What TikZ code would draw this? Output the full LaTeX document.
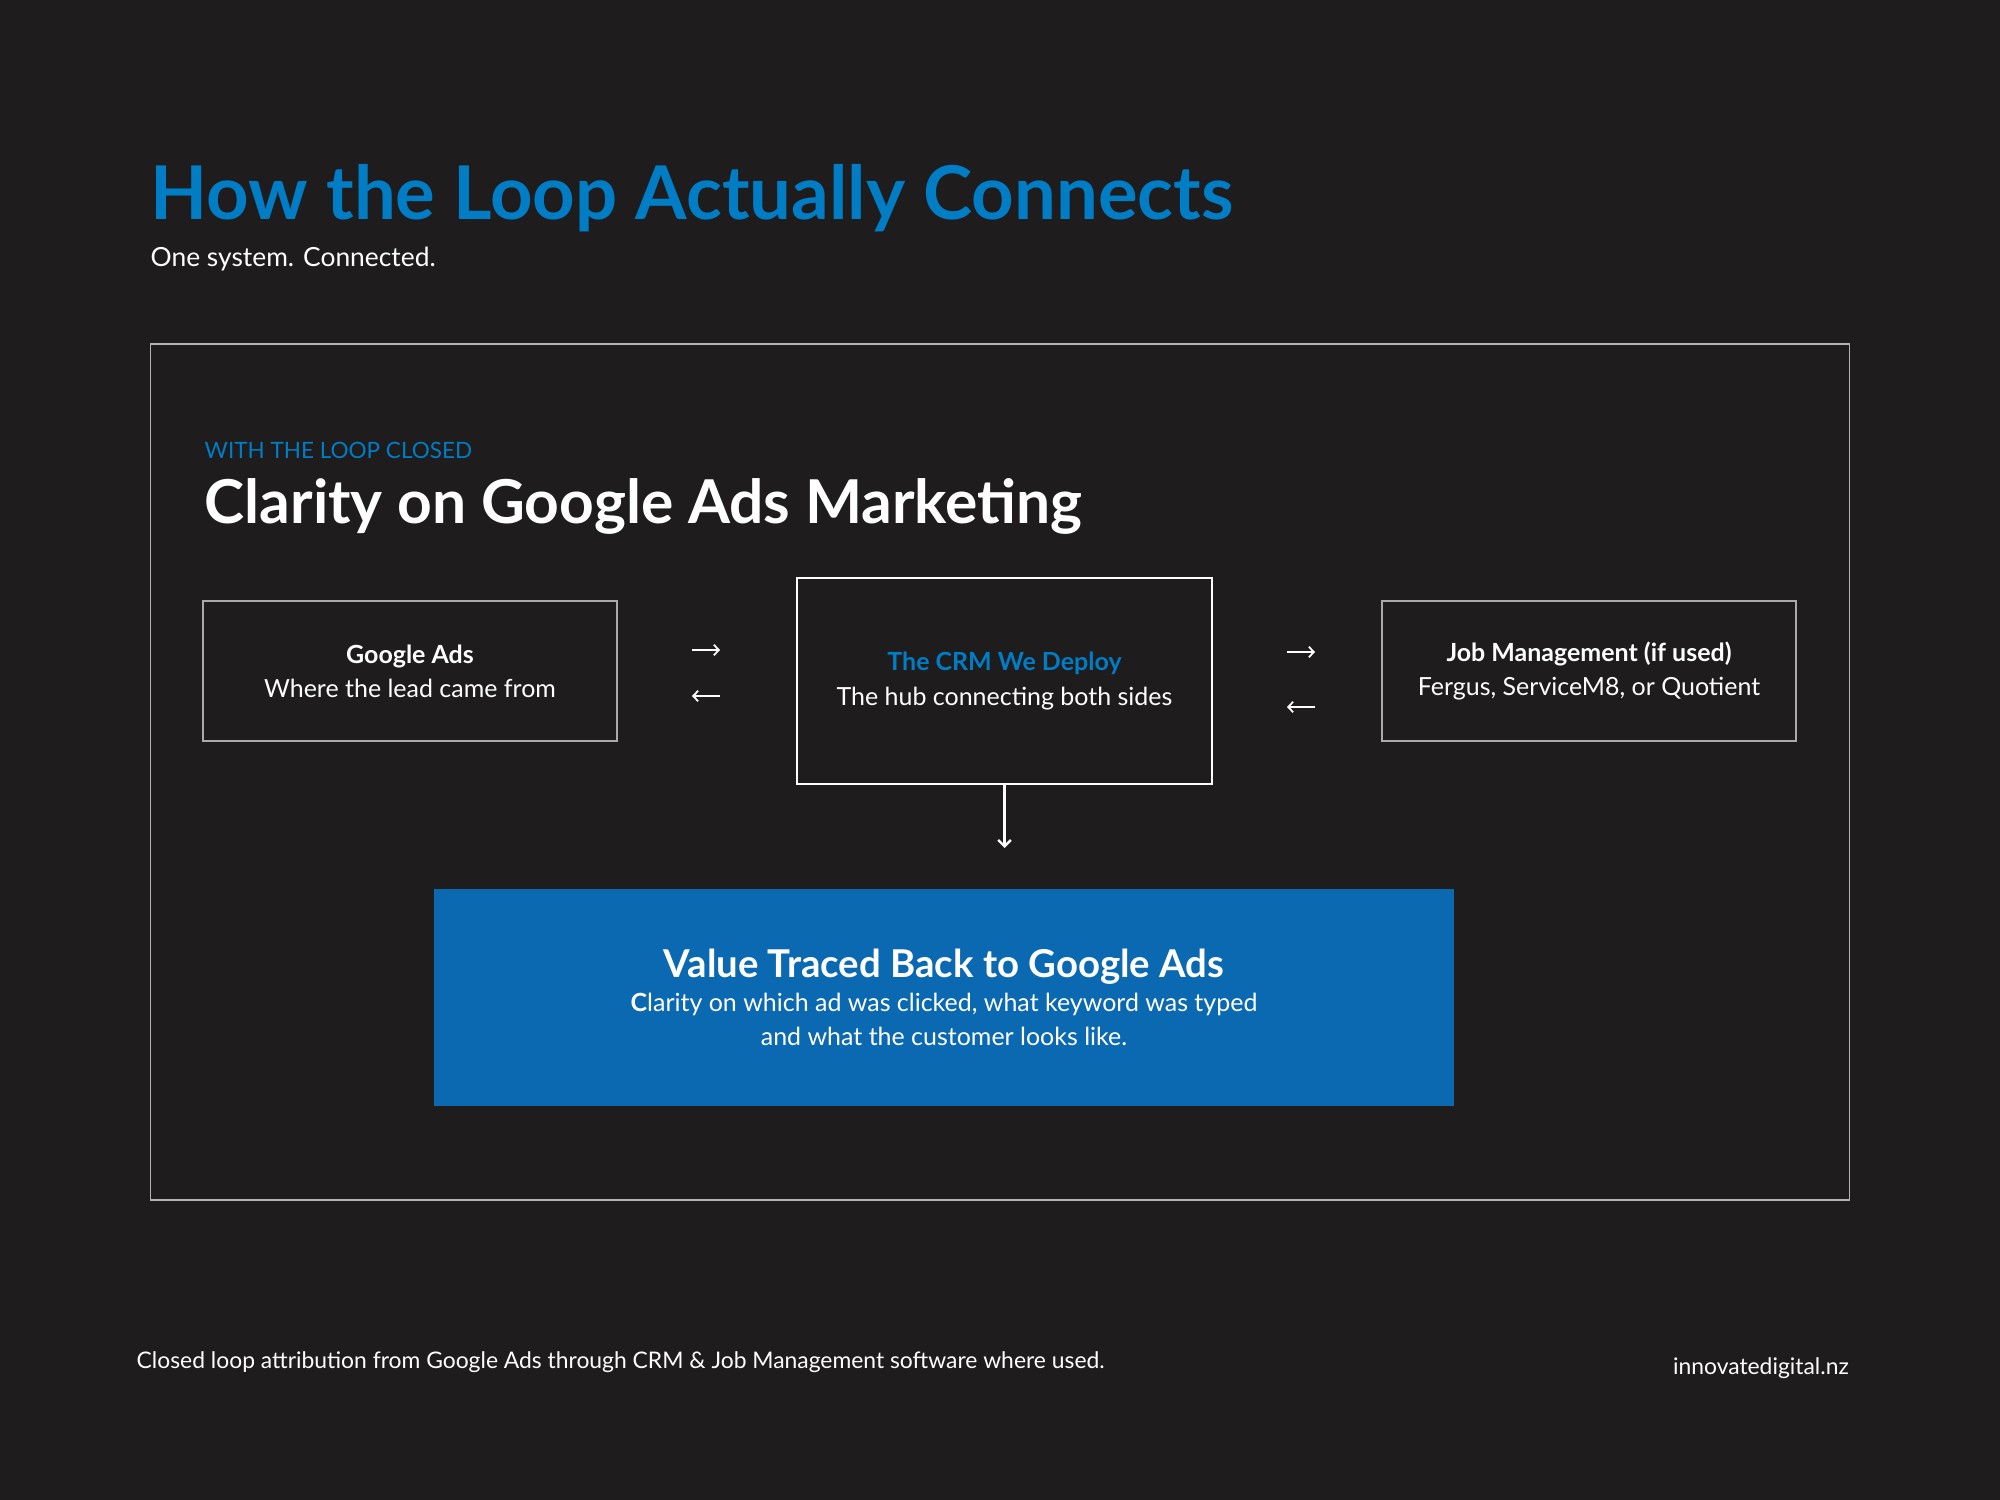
\documentclass[tikz,border=0pt]{standalone}
\usepackage{fontspec}
\setmainfont{Lato}
\usetikzlibrary{positioning, arrows.meta}
\definecolor{bgdark}{RGB}{30,28,29}
\definecolor{titleblue}{RGB}{0,125,197}
\definecolor{boxblue}{RGB}{11,105,178}
\definecolor{edgegray}{RGB}{170,170,170}

\begin{document}
\begin{tikzpicture}[
    x=0.01cm, y=-0.01cm,
    text=white,
    sidebox/.style={rectangle, draw=edgegray, line width=0.45pt, minimum width=4.14cm,
                    minimum height=1.40cm, align=center, font=\fontsize{7.1}{9.7}\selectfont},
    hubbox/.style={rectangle, draw=white, line width=0.7pt, minimum width=4.15cm,
                   minimum height=2.06cm, align=center, font=\fontsize{7.1}{9.7}\selectfont},
    valuebox/.style={rectangle, fill=boxblue, minimum width=10.20cm, minimum height=2.17cm,
                     align=center, font=\fontsize{7.1}{9.7}\selectfont},
    flow/.style={-{Straight Barb[length=1.4pt, width=3pt]}, white, line width=0.5pt},
    down/.style={-{Straight Barb[length=1.8pt, width=3.6pt]}, white, line width=0.7pt}
]

% --- Fondo y marco ---
\fill[bgdark] (0,0) rectangle (2000,1500);
\useasboundingbox (0,0) rectangle (2000,1500);
\draw[edgegray!90!white, line width=0.45pt] (150.5,344) rectangle (1849.5,1200);

% --- Titulos ---
\node[anchor=base west, inner sep=0pt, text=titleblue, font=\fontsize{21.1}{25}\selectfont\bfseries]
    (title) at (150,219) {How the Loop Actually Connects};
\node[anchor=base west, inner sep=0pt, font=\fontsize{7.5}{9}\selectfont]
    (subtitle) at (150,267) {One system. Connected.};
\node[anchor=base west, inner sep=0pt, text=titleblue, font=\fontsize{6.4}{8}\selectfont]
    (kicker) at (204,458) {WITH THE LOOP CLOSED};
\node[anchor=base west, inner sep=0pt, font=\fontsize{17.2}{20}\selectfont\bfseries]
    (heading) at (204,523) {Clarity on Google Ads Marketing};

% --- Cajas ---
\node[sidebox] (ads) at (410,671) {\textbf{Google Ads}\\Where the lead came from};
\node[hubbox] (crm) at (1004.5,681) {\textcolor{titleblue}{\textbf{The CRM We Deploy}}\\The hub connecting both sides};
\node[sidebox] (jobs) at (1589,671) {\textbf{Job Management (if used)}\\Fergus, ServiceM8, or Quotient};
\node[valuebox] (value) at (944,997.5)
    {{\fontsize{10.9}{11.9}\selectfont\bfseries Value Traced Back to Google Ads}\\
     \textbf{C}larity on which ad was clicked, what keyword was typed\\
     and what the customer looks like.};

% --- Flechas ---
\coordinate (adsout) at (692,650);  \coordinate (crmin) at (720,650);
\coordinate (crmback) at (720,696); \coordinate (adsin) at (692,696);
\coordinate (crmout) at (1287,652); \coordinate (jobsin) at (1315,652);
\coordinate (jobsback) at (1315,707); \coordinate (crmret) at (1287,707);
\coordinate (valuein) at (crm.south |- 0,848);

\draw[flow] (adsout) -- (crmin);
\draw[flow] (crmback) -- (adsin);
\draw[flow] (crmout) -- (jobsin);
\draw[flow] (jobsback) -- (crmret);
\draw[down] (crm.south) -- (valuein);

% --- Pie ---
\node[anchor=base west, inner sep=0pt, font=\fontsize{6.5}{8}\selectfont] (footer) at (136,1368)
    {Closed loop attribution from Google Ads through CRM \& Job Management software where used.};
\node[anchor=base east, inner sep=0pt, font=\fontsize{6.5}{8}\selectfont] (site) at (1849.5,1374)
    {innovatedigital.nz};

\end{tikzpicture}
\end{document}
